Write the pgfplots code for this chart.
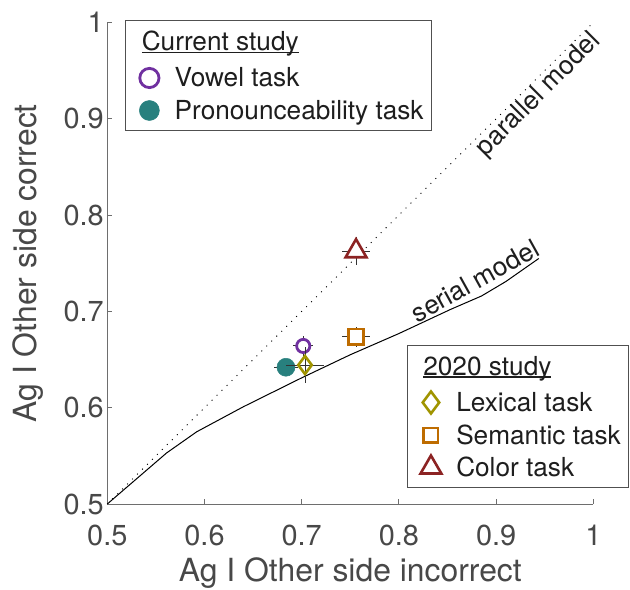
\documentclass[border=0pt]{standalone}
\usepackage{fontspec}
\setmainfont{TeX Gyre Heros}
\usepackage{pgfplots}
\pgfplotsset{compat=1.18}
\definecolor{cvowel}{RGB}{112,48,160}
\definecolor{cpron}{RGB}{40,128,126}
\definecolor{clex}{RGB}{160,148,0}
\definecolor{csem}{RGB}{190,108,0}
\definecolor{ccol}{RGB}{140,35,35}
\definecolor{labelgray}{RGB}{72,72,72}
\definecolor{axgray}{RGB}{110,110,110}
\definecolor{leggray}{RGB}{80,80,80}
\definecolor{legtext}{RGB}{30,30,30}
\newcommand\ul[1]{\setbox0\hbox{#1}\rlap{\rule[-2.6bp]{\wd0}{1.4bp}}\box0}
\newcommand\lsT{\rule[-15bp]{0pt}{45bp}}
\newcommand\lsE{\rule[-11bp]{0pt}{32.5bp}}
\pgfplotsset{
  common/.style={
    scale only axis, width=486bp, height=481.5bp,
    xmin=0.5,xmax=1,ymin=0.5,ymax=1,
    at={(0,0)}, anchor=south west, clip=false,
    legend image code/.code={\path (-15.4bp,0bp) (24.8bp,0bp); \draw[##1] plot coordinates {(0bp,9bp)};},
    legend style={draw=leggray, line width=1bp, fill=white, text=legtext,
      font=\fontsize{26.3}{30}\selectfont, inner xsep=8bp, inner ysep=0bp,
      column sep=0bp, row sep=0bp, nodes={inner sep=0bp, text depth=, text height=}, cells={anchor=base west}},
    ebar/.style={error bars/.cd, x dir=both, x explicit, y dir=both, y explicit,
      error mark=none, error bar style={draw=black!80, line width=1bp}},
  },
}
\begin{document}
\begin{tikzpicture}
\begin{axis}[common, name=main,
  axis lines*=left,
  axis line style={draw=axgray, line width=1bp},
  tick style={draw=axgray, line width=1bp},
  tick align=inside, major tick length=5bp,
  xtick={0.5,0.6,0.7,0.8,0.9,1}, ytick={0.5,0.6,0.7,0.8,0.9,1},
  xticklabels={0.5,0.6,0.7,0.8,0.9,1}, yticklabels={0.5,0.6,0.7,0.8,0.9,1},
  tick label style={font=\fontsize{29}{34}\selectfont, text=labelgray},
  xticklabel style={yshift=-17bp},
  xlabel={Ag I Other side incorrect}, ylabel={Ag I Other side correct},
  label style={font=\fontsize{32}{38}\selectfont, text=labelgray},
  xlabel style={at={(axis description cs:0.5,-0.16)}, anchor=base},
  ylabel style={at={(axis description cs:-0.1467,0.5)}, anchor=base},
  legend style={at={(rel axis cs:0.0364,1.0052)}, anchor=north west},
]
\addplot[forget plot, black, line width=0.9bp, dash pattern=on 1bp off 6bp] coordinates {(0.5,0.5) (1,1)};
\addplot[forget plot, black, line width=1bp] coordinates {
 (0.5,0.5) (0.561,0.553) (0.592,0.575) (0.64,0.601) (0.70,0.631) (0.75,0.655)
 (0.80,0.677) (0.853,0.702) (0.885,0.716) (0.91,0.731) (0.944,0.755)};
\addlegendimage{empty legend}
\addlegendentry{\hspace*{-32.9bp}\ul{Current study}\lsT}
\addplot[only marks, mark=*, mark size=6.6bp, mark options={draw=cvowel, fill=white, line width=2.8bp},
  legend image post style={mark size=9.6bp}, ebar]
  coordinates {(0.7016,0.6641) +- (0.0103,0.0103)};
\addlegendentry{Vowel task\lsE}
\addplot[only marks, mark=*, mark size=9bp, mark options={draw=cpron, fill=cpron, line width=0.5bp},
  legend image post style={mark size=10bp}, ebar]
  coordinates {(0.6838,0.6420) +- (0.012,0.009)};
\addlegendentry{Pronounceability task\lsE}
\node[rotate=45, font=\fontsize{26.3}{30}\selectfont, text=legtext] at (axis cs:0.944,0.9247) {parallel model};
\node[rotate=29, font=\fontsize{26.3}{30}\selectfont, text=legtext] at (axis cs:0.8783,0.7319) {serial model};
\end{axis}
\begin{axis}[common, hide axis,
  legend style={at={(rel axis cs:1.0741,0.0332)}, anchor=south east},
]
\addlegendimage{empty legend}
\addlegendentry{\hspace*{-32.9bp}\ul{2020 study}\lsT}
\addplot[only marks, mark=diamond, mark size=9bp, mark options={draw=clex, fill=white, line width=2.6bp},
  legend image post style={mark size=11bp}, ebar]
  coordinates {(0.7034,0.6443) +- (0.02,0.019)};
\addlegendentry{Lexical task\lsE}
\addplot[only marks, mark=square*, mark size=7.6bp, mark options={draw=csem, fill=white, line width=2.6bp},
  legend image post style={mark size=7.2bp}, ebar]
  coordinates {(0.7559,0.6737) +- (0.0144,0.0104)};
\addlegendentry{Semantic task\lsE}
\addplot[only marks, mark=triangle*, mark size=12bp, mark options={draw=ccol, fill=white, line width=2.6bp},
  legend image post style={mark size=12bp}, ebar]
  coordinates {(0.7559,0.7625) +- (0.0144,0.0145)};
\addlegendentry{Color task\lsE}
\end{axis}
\pgfresetboundingbox
\path (main.south west) ++(-107.3bp,-86bp) rectangle ++(630bp,590bp);
\end{tikzpicture}
\end{document}
